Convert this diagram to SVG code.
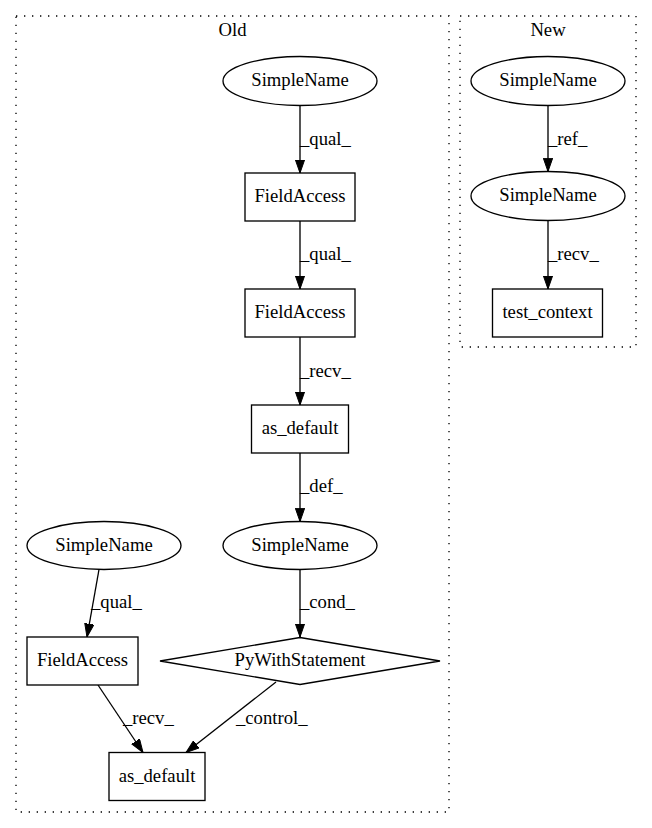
<svg xmlns="http://www.w3.org/2000/svg" width="652" height="828" viewBox="0 0 652 828">
<style>
text{font-family:"Liberation Serif","Times New Roman",serif;font-size:18.67px;fill:#000}
.n{text-anchor:middle}
.shape{fill:#fff;stroke:#000;stroke-width:1.33}
.cl{fill:none;stroke:#000;stroke-width:1.33;stroke-dasharray:1.33,6.67}
.e{fill:none;stroke:#000;stroke-width:1.33;marker-end:url(#ah)}
</style>
<defs>
<marker id="ah" markerUnits="userSpaceOnUse" markerWidth="14" markerHeight="10" refX="13.3" refY="4.67" orient="auto">
<path d="M0,0 L13.3,4.67 L0,9.33 Z" fill="#000" stroke="#000" stroke-width="1"/>
</marker>
</defs>
<rect width="652" height="828" fill="#fff"/>
<g id="cluster_old">
<rect class="cl" x="16" y="16" width="433" height="796"/>
<text class="n" x="232.5" y="35.5">Old</text>
</g>
<g id="cluster_new">
<rect class="cl" x="460" y="16" width="176" height="331"/>
<text class="n" x="548" y="35.5">New</text>
</g>
<g id="edges">
<line class="e" x1="300" y1="106" x2="300" y2="173"/>
<text x="300" y="145">_qual_</text>
<line class="e" x1="300" y1="221" x2="300" y2="289"/>
<text x="300" y="260">_qual_</text>
<line class="e" x1="300" y1="337" x2="300" y2="405"/>
<text x="300" y="377">_recv_</text>
<line class="e" x1="300" y1="453" x2="300" y2="521.5"/>
<text x="300" y="492">_def_</text>
<line class="e" x1="300" y1="569.5" x2="300" y2="637"/>
<text x="300" y="608">_cond_</text>
<line class="e" x1="99" y1="569.5" x2="87" y2="637"/>
<text x="91" y="608">_qual_</text>
<line class="e" x1="98" y1="685" x2="143" y2="752.5"/>
<text x="123" y="724">_recv_</text>
<line class="e" x1="276" y1="682" x2="186" y2="752.5"/>
<text x="236" y="724">_control_</text>
<line class="e" x1="548" y1="106" x2="548" y2="171.5"/>
<text x="548" y="145">_ref_</text>
<line class="e" x1="548" y1="220.5" x2="548" y2="289"/>
<text x="548" y="260">_recv_</text>
</g>
<g id="old_simplename_top">
<ellipse class="shape" cx="300" cy="81" rx="77" ry="24.5"/>
<text class="n" x="300" y="86">SimpleName</text>
</g>
<g id="old_fieldaccess_1">
<rect class="shape" x="245" y="173" width="110" height="48"/>
<text class="n" x="300" y="202">FieldAccess</text>
</g>
<g id="old_fieldaccess_2">
<rect class="shape" x="245" y="289" width="110" height="48"/>
<text class="n" x="300" y="318">FieldAccess</text>
</g>
<g id="old_as_default_1">
<rect class="shape" x="251.5" y="405" width="97" height="48"/>
<text class="n" x="300" y="434">as_default</text>
</g>
<g id="old_simplename_mid">
<ellipse class="shape" cx="300" cy="545.5" rx="77" ry="24"/>
<text class="n" x="300" y="550.5">SimpleName</text>
</g>
<g id="old_simplename_left">
<ellipse class="shape" cx="104" cy="545.5" rx="77" ry="24"/>
<text class="n" x="104" y="550.5">SimpleName</text>
</g>
<g id="old_pywith">
<polygon class="shape" points="300,637.5 440,661 300,684.5 160,661"/>
<text class="n" x="300" y="666">PyWithStatement</text>
</g>
<g id="old_fieldaccess_left">
<rect class="shape" x="27" y="637" width="111" height="48"/>
<text class="n" x="82.5" y="666">FieldAccess</text>
</g>
<g id="old_as_default_2">
<rect class="shape" x="109" y="752.5" width="96" height="48"/>
<text class="n" x="157" y="781.5">as_default</text>
</g>
<g id="new_simplename_1">
<ellipse class="shape" cx="548" cy="81" rx="77" ry="24.5"/>
<text class="n" x="548" y="86">SimpleName</text>
</g>
<g id="new_simplename_2">
<ellipse class="shape" cx="548" cy="196" rx="77" ry="24.5"/>
<text class="n" x="548" y="201">SimpleName</text>
</g>
<g id="new_test_context">
<rect class="shape" x="492.5" y="289" width="110" height="48"/>
<text class="n" x="547.5" y="318">test_context</text>
</g>
</svg>
